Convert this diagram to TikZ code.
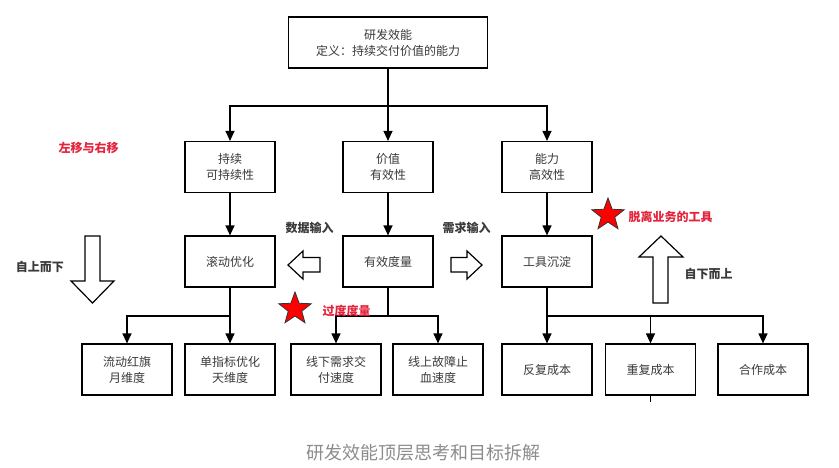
\documentclass[tikz,border=0pt]{standalone}
\usepackage{fontspec}
\setmainfont{Noto Sans CJK SC}
\usetikzlibrary{arrows.meta,positioning,shapes.geometric}
\definecolor{boxtext}{HTML}{3A3A3A}
\definecolor{hint}{HTML}{E3243B}
\definecolor{caption}{HTML}{8C8C8C}

\tikzset{
  goalbox/.style={draw=black,line width=1.2pt,minimum width=90pt,minimum height=51pt,
    align=center,font=\fontsize{12}{16}\selectfont,text=boxtext},
  feed/.style={line width=1.2pt,-{Triangle[length=10pt,width=9pt]}},
  hollow/.style={draw=black,line width=1.2pt,fill=white,line join=miter},
  redstar/.style={star,star points=5,star point ratio=2.4,fill=red,draw=black!80,
    line width=0.8pt,minimum size=34pt,inner sep=0pt},
  tag/.style={font=\bfseries\fontsize{12}{14}\selectfont,text=boxtext},
  warn/.style={font=\bfseries\fontsize{12}{14}\selectfont,text=hint}
}

\begin{document}
\begin{tikzpicture}[x=1pt,y=-1pt]
  \fill[white] (0,0) rectangle (839,467);
  \useasboundingbox (0,0) rectangle (839,467);

  % goal
  \node[goalbox,minimum width=199pt] (goal) at (388,42.5) {研发效能\\定义：持续交付价值的能力};

  % three aspects
  \node[goalbox] (keep) at (230,167) {持续\\可持续性};
  \node[goalbox] (value) at (388,167) {价值\\有效性};
  \node[goalbox] (power) at (547,167) {能力\\高效性};

  \node[goalbox] (roll) at (230,261.5) {滚动优化};
  \node[goalbox] (measure) at (388,261.5) {有效度量};
  \node[goalbox] (tool) at (547,261.5) {工具沉淀};

  % sub goals
  \node[goalbox] (redflag) at (127,369.5) {流动红旗\\月维度};
  \node[goalbox] (single) at (230,369.5) {单指标优化\\天维度};
  \node[goalbox] (offline) at (336,369.5) {线下需求交\\付速度};
  \node[goalbox] (online) at (438,369.5) {线上故障止\\血速度};
  \node[goalbox] (rework) at (547,369.5) {反复成本};
  \node[goalbox] (repeat) at (650.5,369.5) {重复成本};
  \node[goalbox] (coop) at (763,369.5) {合作成本};

  \coordinate (split) at (388,106);
  \coordinate (rollsplit) at (230,316);
  \coordinate (msplit) at (388,316);
  \coordinate (toolsplit) at (547,316);
  \coordinate (stub) at (650.5,402);

  \draw[feed] (goal) -- (value);
  \draw[feed] (split) -| (keep.north);
  \draw[feed] (split) -| (power.north);
  \draw[feed] (keep) -- (roll);
  \draw[feed] (value) -- (measure);
  \draw[feed] (power) -- (tool);

  \draw[feed] (roll) -- (single);
  \draw[feed] (rollsplit) -| (redflag.north);
  \draw[line width=1.2pt] (measure.south) -- (msplit);
  \draw[feed] (msplit) -| (offline.north);
  \draw[feed] (msplit) -| (online.north);
  \draw[feed] (tool) -- (rework);
  \draw[feed] (toolsplit) -| (repeat.north);
  \draw[feed] (toolsplit) -| (coop.north);
  \draw[line width=1.2pt] (repeat.south) -- (stub);

  % hollow arrows
  \draw[hollow] (92.5,303) -- (71,281) -- (85,281) -- (85,236) -- (100,236) -- (100,281) -- (114,281) -- cycle;
  \draw[hollow] (288,265) -- (303,251) -- (303,257.5) -- (320,257.5) -- (320,272) -- (303,272) -- (303,279) -- cycle;
  \draw[hollow] (482,265) -- (467,251) -- (467,257.5) -- (451,257.5) -- (451,272) -- (467,272) -- (467,279) -- cycle;
  \draw[hollow] (661,236) -- (639,257) -- (653,257) -- (653,303) -- (668,303) -- (668,257) -- (683,257) -- cycle;

  % labels
  \node[warn] (shift) at (88.5,148) {左移与右移};
  \node[tag] (datain) at (309.5,228) {数据输入};
  \node[tag] (needin) at (466.5,228) {需求输入};
  \node[tag] (topdown) at (40,267) {自上而下};
  \node[tag] (bottomup) at (708.5,274) {自下而上};

  \node[redstar] (overstar) at (295,309) {};
  \node[warn,anchor=west] (overmeasure) at (319,311) {过度度量};
  \node[redstar] (toolstar) at (608,215) {};
  \node[warn,anchor=west] (offbiz) at (625,217) {脱离业务的工具};

  \node[font=\fontsize{18}{22}\selectfont,text=caption] (caption) at (423.5,453) {研发效能顶层思考和目标拆解};
\end{tikzpicture}
\end{document}
